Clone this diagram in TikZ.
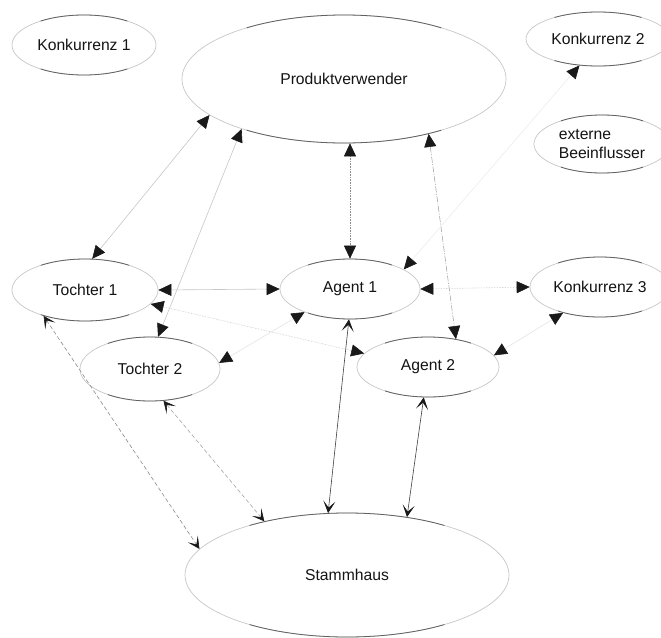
\documentclass[tikz,border=0pt]{standalone}
\usepackage{fontspec}
\setmainfont{Liberation Sans}
\usetikzlibrary{shapes.geometric,arrows.meta,calc}
\newcommand\lblsize{\fontsize{15.7}{19.5}\selectfont}

\begin{document}
\begin{tikzpicture}[x=1pt,y=-1pt,
  ent/.style={ellipse, draw=black!22, line width=0.7pt, inner sep=0pt,
              font=\lblsize, text=black!92},
  ht/.tip={Triangle[length=13pt,width=12pt,color=black!90]},
  hv/.tip={Stealth[length=12pt,width=12pt,inset=6.5pt,color=black!90]},
  faint/.style={draw=black!22, line width=0.6pt},
  veryfaint/.style={draw=black!10, line width=0.6pt},
  dotline/.style={draw=black!45, line width=0.6pt, densely dotted},
  midline/.style={draw=black!40, line width=0.5pt, dash pattern=on 6pt off 1.5pt on 1pt off 1.5pt},
  dashline/.style={draw=black!45, line width=0.6pt, dash pattern=on 4pt off 2.5pt},
  darkline/.style={draw=black!75, line width=0.6pt}
]
\useasboundingbox (0,0) rectangle (661,637);
\fill[white] (0,0) rectangle (661,637);
\clip (0,0) rectangle (661,637);

% parties
\node[ent, minimum width=144pt, minimum height=60pt]  (K1) at (84,45)   {Konkurrenz 1};
\node[ent, minimum width=324pt, minimum height=128pt] (PV) at (344,79)  {Produktverwender};
\node[ent, minimum width=144pt, minimum height=54pt]  (K2) at (598,39)  {Konkurrenz 2};
\node[ent, minimum width=136pt, minimum height=58pt, align=left] (EB) at (602,144) {externe\\Beeinflusser};
\node[ent, minimum width=146pt, minimum height=62pt]  (T1) at (85,290)  {Tochter 1};
\node[ent, minimum width=140pt, minimum height=60pt]  (A1) at (350,289) {Agent 1};
\node[ent, minimum width=140pt, minimum height=60pt]  (K3) at (600,287) {Konkurrenz 3};
\node[ent, minimum width=140pt, minimum height=64pt]  (T2) at (150,369) {Tochter 2};
\node[ent, minimum width=142pt, minimum height=60pt]  (A2) at (428,367) {Agent 2};
\node[ent, minimum width=324pt, minimum height=124pt] (SH) at (347,575) {Stammhaus};

% darker upper and lower arcs of every outline
\foreach \nd in {K1,PV,K2,EB,T1,A1,K3,T2,A2,SH}{
  \begin{scope}
    \clip ([yshift=80pt]$(\nd.west)!0.2!(\nd.east)$) rectangle ([yshift=-80pt]$(\nd.west)!0.8!(\nd.east)$);
    \draw[black!62, line width=0.8pt]
      let \p1=($(\nd.east)-(\nd.center)$), \p2=($(\nd.north)-(\nd.center)$) in
      (\nd.center) ellipse [x radius=\x1-0.35pt, y radius=\y2-0.35pt];
  \end{scope}
}

% relations
\draw[faint, arrows=ht-ht] (T1.77) -- (PV.195);
\draw[faint, arrows=ht-ht] (T2.76) -- (PV.206);
\draw[faint, arrows=ht-ht] (T1.east) -- (A1.west);
\draw[faint, densely dotted, arrows=ht-ht] (T1.-12) -- (A2.168);
\draw[veryfaint, arrows=ht-ht] (T2.5) -- (A1.207);
\draw[dotline, arrows=ht-ht] (PV.south -| A1.north) -- (A1.north);
\draw[midline, arrows=ht-ht] (PV.-33) -- (A2.45);
\draw[veryfaint, draw=black!7, arrows=ht-ht] (A1.20) -- (K2.235);
\draw[faint, densely dotted, arrows=ht-ht] (A1.east) -- (K3.west);
\draw[veryfaint, arrows=ht-ht] (A2.10) -- (K3.215);

% links to the head office
\draw[dashline, arrows=hv-hv] (T1.212) -- (SH.170);
\draw[dashline, draw=black!35, arrows=hv-hv] (T2.-67) -- (SH.147);
\draw[darkline, arrows=hv-hv] (A1.268) -- (SH.107);
\draw[darkline, arrows=hv-hv] (A2.262) -- (SH.44);
\end{tikzpicture}
\end{document}
